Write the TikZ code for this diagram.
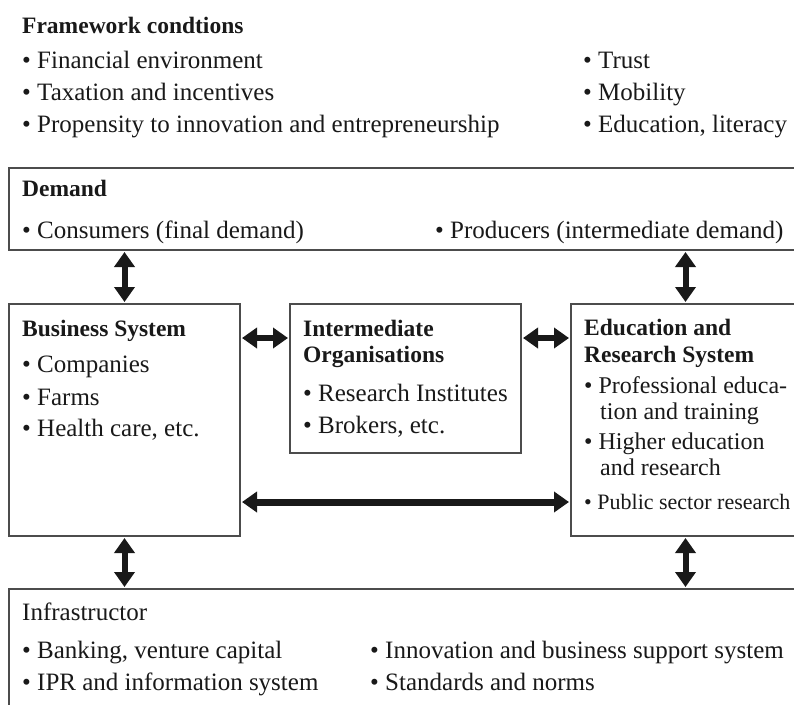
\documentclass[tikz,border=0pt]{standalone}
\usepackage{fontspec}
\setmainfont{Liberation Serif}
\usetikzlibrary{arrows.meta}
\begin{document}
\begin{tikzpicture}[x=1pt,y=-1pt,
  box/.style={draw=black!70, line width=1.3pt, rectangle, inner sep=0pt, outer sep=0pt, anchor=north west},
  txt/.style={anchor=base west, inner sep=0pt, text=black!90, font=\fontsize{25}{30}\selectfont},
  mid/.style={anchor=base west, inner sep=0pt, text=black!90, font=\fontsize{24}{28}\selectfont},
  small/.style={anchor=base west, inner sep=0pt, text=black!90, font=\fontsize{22}{26}\selectfont},
  hd/.style={anchor=base west, inner sep=0pt, text=black!90, font=\fontsize{23.5}{28}\selectfont\bfseries},
  dbl/.style={line width=6pt, draw=black!90, {Triangle[width=20pt,length=15pt]}-{Triangle[width=20pt,length=15pt]}, shorten <=2pt, shorten >=2pt}
]
\clip (0,0) rectangle (794,704);
\fill[white] (0,0) rectangle (794,704);
% boxes
\node[box, minimum width=791pt, minimum height=82pt] (demand) at (9,168) {};
\node[box, minimum width=231pt, minimum height=232pt] (biz) at (9,304) {};
\node[box, minimum width=231pt, minimum height=149pt] (inter) at (290,304) {};
\node[box, minimum width=229pt, minimum height=232pt] (edu) at (571,304) {};
\node[box, minimum width=800pt, minimum height=200pt] (infra) at (9,589) {};
% framework
\node[hd] (fwt) at (22,33) {Framework condtions};
\node[txt] (f1) at (22,68) {• Financial environment};
\node[txt] (f2) at (22,100) {• Taxation and incentives};
\node[txt] (f3) at (22,132) {• Propensity to innovation and entrepreneurship};
\node[txt] (r1) at (583,68) {• Trust};
\node[txt] (r2) at (583,100) {• Mobility};
\node[txt] (r3) at (583,132) {• Education, literacy};
% demand
\node[hd] (dh) at (22,196) {Demand};
\node[txt] (d1) at (22,238) {• Consumers (final demand)};
\node[txt] (d2) at (435,238) {• Producers (intermediate demand)};
% business
\node[hd] (bh) at (22,336) {Business System};
\node[txt] (b1) at (22,372) {• Companies};
\node[txt] (b2) at (22,405) {• Farms};
\node[txt] (b3) at (22,436) {• Health care, etc.};
% intermediate
\node[hd] (ih1) at (303,336) {Intermediate};
\node[hd] (ih2) at (303,362) {Organisations};
\node[txt] (i1) at (303,401) {• Research Institutes};
\node[txt] (i2) at (303,433) {• Brokers, etc.};
% education
\node[hd] (eh1) at (584,335) {Education and};
\node[hd] (eh2) at (584,362) {Research System};
\node[mid] (e1) at (584,393) {• Professional educa-};
\node[mid] (e1b) at (600,419) {tion and training};
\node[mid] (e2) at (584,449) {• Higher education};
\node[mid] (e2b) at (600,475) {and research};
\node[small] (e3) at (584,509) {• Public sector research};
% infrastructure
\node[txt] (nh) at (22,620) {Infrastructor};
\node[txt] (n1) at (22,658) {• Banking, venture capital};
\node[txt] (n2) at (22,690) {• IPR and information system};
\node[txt] (n3) at (370,658) {• Innovation and business support system};
\node[txt] (n4) at (370,690) {• Standards and norms};
% arrows
\coordinate (h1) at (0,338);
\coordinate (h2) at (0,502);
\draw[dbl] (demand.south -| biz.north) -- (biz.north);
\draw[dbl] (demand.south -| edu.north) -- (edu.north);
\draw[dbl] (biz.south) -- (infra.north -| biz.south);
\draw[dbl] (edu.south) -- (infra.north -| edu.south);
\draw[dbl] (biz.east |- h1) -- (inter.west |- h1);
\draw[dbl] (inter.east |- h1) -- (edu.west |- h1);
\draw[dbl, line width=7pt] (biz.east |- h2) -- (edu.west |- h2);
\end{tikzpicture}
\end{document}
